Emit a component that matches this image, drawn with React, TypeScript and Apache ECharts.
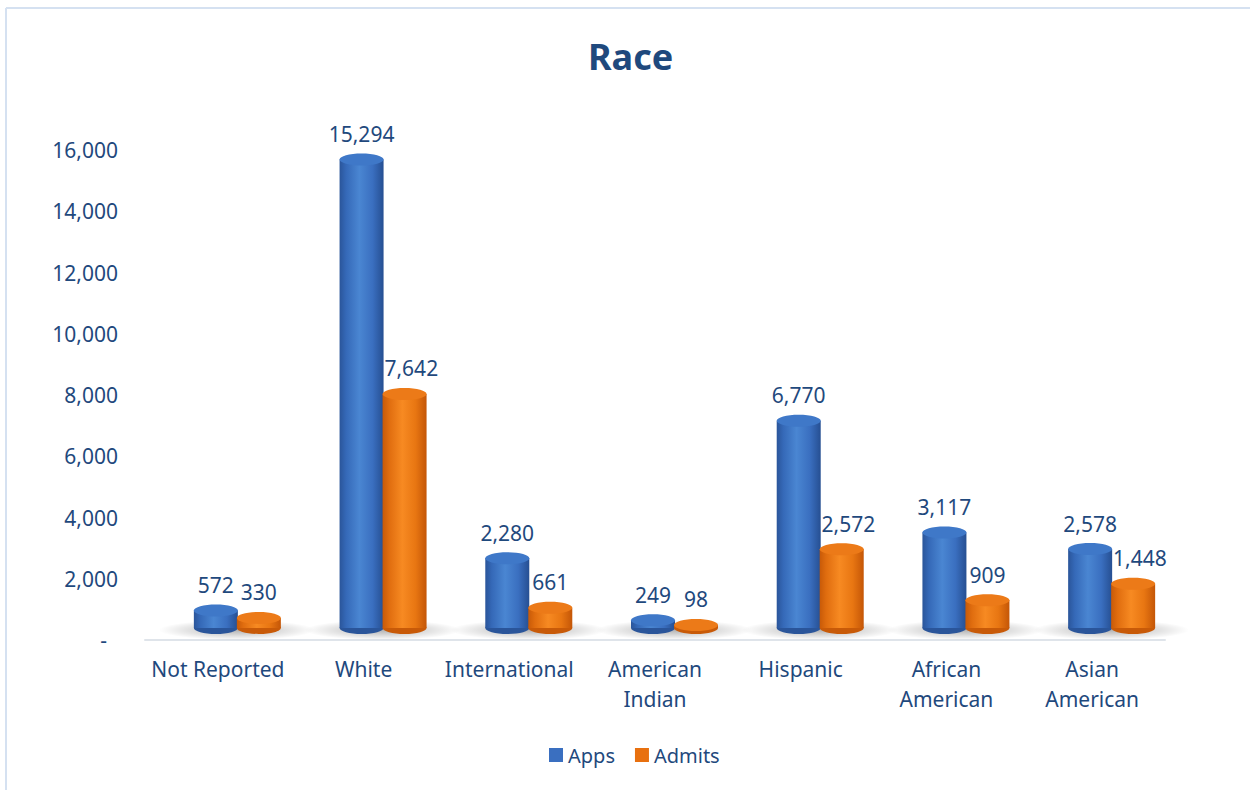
import React, { useEffect, useRef } from "react";
import * as echarts from "echarts";

const categories = [
  "Not Reported",
  "White",
  "International",
  "American\nIndian",
  "Hispanic",
  "African\nAmerican",
  "Asian\nAmerican",
];
const apps = [572, 15294, 2280, 249, 6770, 3117, 2578];
const admits = [330, 7642, 661, 98, 2572, 909, 1448];
const yMin = 0;
const yMax = 16000;
const yInterval = 2000;

const TEXT = "#1f497d";
const FONT = '"Noto Sans", "Open Sans", sans-serif';
const FS = 21;

function lg(stops: [number, string][]) {
  return new echarts.graphic.LinearGradient(
    0,
    0,
    1,
    0,
    stops.map(([offset, color]) => ({ offset, color }))
  );
}

const blueBody = lg([
  [0, "#2a559a"],
  [0.15, "#3569b8"],
  [0.45, "#4a86d2"],
  [0.75, "#3a6fc0"],
  [1, "#264f92"],
]);
const orangeBody = lg([
  [0, "#c85a08"],
  [0.15, "#e06d0f"],
  [0.45, "#f78a22"],
  [0.75, "#e87612"],
  [1, "#c45607"],
]);

// approximate label width (digits ~0.572em, comma ~0.26em)
function labelWidth(s: string) {
  let w = 0;
  for (const ch of s) w += ch === "," ? 0.26 : 0.572;
  return w * FS;
}

function cylinder(
  offset: number,
  body: any,
  topFill: string,
  bottomFill: string,
  other: number[] | null
) {
  return (params: any, api: any) => {
    const idx = api.value(0);
    const v = api.value(1);
    const top = api.coord([idx, v]);
    const base = api.coord([idx, 0]);
    const cx = top[0] + offset;
    const hw = 22;
    const ry = 6;
    const lift = 12;
    const yT = top[1] - lift;
    const yB = base[1] - lift;
    const text = Number(v).toLocaleString("en-US");
    let lx = cx;
    if (other && other[idx] > v) {
      // keep label clear of the taller neighbouring bar on the left
      lx = cx + Math.max(0, labelWidth(text) / 2 - 20);
    }
    return {
      type: "group",
      children: [
        {
          type: "ellipse",
          shape: { cx, cy: yB, rx: hw, ry },
          style: { fill: bottomFill },
        },
        {
          type: "rect",
          shape: { x: cx - hw, y: yT, width: 2 * hw, height: Math.max(0, yB - yT) },
          style: { fill: body },
        },
        {
          type: "ellipse",
          shape: { cx, cy: yT, rx: hw, ry },
          style: { fill: topFill },
        },
        {
          type: "text",
          style: {
            text,
            x: lx,
            y: yT - ry - 9,
            align: "center",
            verticalAlign: "bottom",
            fill: TEXT,
            fontSize: FS,
            fontFamily: FONT,
          },
        },
      ],
    };
  };
}

function shadowItem(params: any, api: any) {
  const idx = api.value(0);
  const base = api.coord([idx, 0]);
  const cx = base[0] + 19;
  const cy = base[1] - 10;
  return {
    type: "ellipse",
    shape: { cx, cy, rx: 78, ry: 10 },
    style: {
      fill: new echarts.graphic.RadialGradient(0.5, 0.5, 0.5, [
        { offset: 0, color: "rgba(0,0,0,0.30)" },
        { offset: 0.6, color: "rgba(0,0,0,0.12)" },
        { offset: 1, color: "rgba(0,0,0,0)" },
      ]),
    },
  };
}

export default function App() {
  const ref = useRef<HTMLDivElement>(null);
  useEffect(() => {
    if (!ref.current) return;
    const chart = echarts.init(ref.current, null, { renderer: "svg" });
    const appsData = apps.map((v, i) => [i, v]);
    const admitsData = admits.map((v, i) => [i, v]);
    chart.setOption({
      animation: false,
      backgroundColor: "#ffffff",
      title: {
        text: "Race",
        left: 583,
        top: 33,
        textStyle: { color: TEXT, fontSize: 36, fontWeight: "bold", fontFamily: FONT },
      },
      legend: {
        bottom: 20,
        left: 544,
        icon: "rect",
        itemWidth: 14,
        itemHeight: 14,
        itemGap: 20,
        textStyle: { color: TEXT, fontSize: 20, fontFamily: FONT },
        data: ["Apps", "Admits"],
      },
      grid: { left: 145, right: 85, top: 150, bottom: 150, containLabel: false },
      xAxis: {
        type: "category",
        data: categories,
        boundaryGap: true,
        axisTick: { show: false },
        axisLine: { lineStyle: { color: "#dfe4ea", width: 2 } },
        axisLabel: {
          color: TEXT,
          fontSize: FS,
          fontFamily: FONT,
          lineHeight: 30,
          margin: 14,
          interval: 0,
        },
      },
      yAxis: {
        type: "value",
        min: yMin,
        max: yMax,
        interval: yInterval,
        splitLine: { show: false },
        axisLine: { show: false },
        axisTick: { show: false },
        axisLabel: {
          color: TEXT,
          fontSize: FS,
          fontFamily: FONT,
          margin: 27,
          formatter: (v: number) => (v === 0 ? "{d|-}" : v.toLocaleString("en-US")),
          rich: { d: { color: TEXT, fontSize: FS, fontFamily: FONT, padding: [0, 11, 0, 0] } },
        },
      },
      graphic: [
        { type: "line", shape: { x1: 6, y1: 8, x2: 1250, y2: 8 }, style: { stroke: "#d5e1f1", lineWidth: 2 } },
        { type: "line", shape: { x1: 6, y1: 8, x2: 6, y2: 790 }, style: { stroke: "#d5e1f1", lineWidth: 2 } },
      ],
      series: [
        {
          name: "shadow",
          type: "custom",
          z: 1,
          silent: true,
          renderItem: shadowItem,
          encode: { x: 0, y: 1 },
          data: appsData,
        },
        {
          name: "Apps",
          type: "custom",
          z: 2,
          itemStyle: { color: "#3a6fc0" },
          renderItem: cylinder(-2, blueBody, "#3f78c8", "#2a559a", null),
          encode: { x: 0, y: 1 },
          data: appsData,
        },
        {
          name: "Admits",
          type: "custom",
          z: 3,
          itemStyle: { color: "#e8700f" },
          renderItem: cylinder(41, orangeBody, "#ec7a18", "#c85a08", apps),
          encode: { x: 0, y: 1 },
          data: admitsData,
        },
      ],
    });
    return () => chart.dispose();
  }, []);
  return (
    <div
      ref={ref}
      style={{ position: "absolute", left: 0, top: 0, width: 1250, height: 790 }}
    />
  );
}
